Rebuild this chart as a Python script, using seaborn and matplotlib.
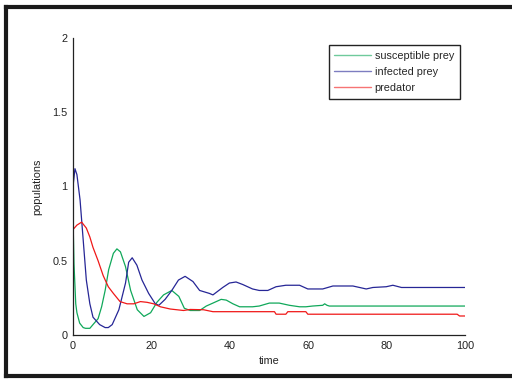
import matplotlib
matplotlib.use("Agg")
import matplotlib.pyplot as plt
from matplotlib.lines import Line2D
import numpy as np
import pandas as pd
import seaborn as sns

# Susceptible prey
t_s = [0, 0.25, 0.7, 1.0, 1.7, 2.6, 3.2, 4.3, 5.1, 6.4, 7.3, 8.2, 9.1, 10.3, 11.2, 12.1,
       13.4, 14.7, 16.4, 18.1, 19.8, 21.4, 23.1, 25.2, 27.0, 28.4, 29.9, 32.3, 34.0, 35.7,
       37.8, 39.1, 40.8, 42.5, 45.8, 47.5, 50.1, 52.6, 55.2, 57.8, 59.4, 61.1, 63.7, 64.2,
       64.8, 65.4, 100]
v_s = [0.80, 0.48, 0.21, 0.15, 0.08, 0.05, 0.045, 0.045, 0.07, 0.11, 0.19, 0.30, 0.44, 0.55,
       0.58, 0.56, 0.46, 0.30, 0.17, 0.125, 0.15, 0.22, 0.27, 0.30, 0.26, 0.18, 0.165, 0.165,
       0.195, 0.215, 0.24, 0.235, 0.21, 0.19, 0.19, 0.195, 0.215, 0.215, 0.20, 0.19, 0.19,
       0.195, 0.20, 0.21, 0.20, 0.195, 0.195]

# Infected prey
t_i = [0, 0.5, 1.0, 1.8, 2.6, 3.4, 4.3, 5.1, 6.8, 8.2, 9.0, 10.0, 11.7, 13.4, 14.2, 15.1,
       16.3, 17.6, 19.3, 21.0, 21.9, 23.5, 25.2, 26.9, 28.6, 30.6, 32.3, 34.8, 35.7, 38.2,
       39.9, 41.6, 43.3, 45.8, 47.5, 49.7, 51.8, 54.3, 57.8, 59.9, 63.7, 66.3, 71.4, 74.8,
       76.5, 79.9, 81.6, 83.8, 100]
v_i = [1.00, 1.12, 1.08, 0.91, 0.64, 0.37, 0.21, 0.12, 0.07, 0.05, 0.05, 0.07, 0.17, 0.35,
       0.49, 0.52, 0.47, 0.37, 0.28, 0.21, 0.20, 0.24, 0.30, 0.37, 0.395, 0.36, 0.30, 0.28,
       0.27, 0.32, 0.35, 0.357, 0.34, 0.31, 0.30, 0.30, 0.325, 0.335, 0.335, 0.31, 0.31,
       0.33, 0.33, 0.31, 0.32, 0.325, 0.335, 0.32, 0.32]

# Predator
t_p = [0, 1.0, 2.2, 3.4, 4.3, 5.1, 6.4, 7.7, 9.0, 10.3, 12.0, 13.8, 15.5, 17.2, 18.9, 20.6,
       22.3, 24.8, 28.2, 29.9, 33.3, 35.7, 51.4, 51.8, 54.3, 54.8, 59.4, 59.9, 98.0, 98.6, 100]
v_p = [0.71, 0.74, 0.76, 0.72, 0.66, 0.59, 0.50, 0.40, 0.325, 0.28, 0.225, 0.21, 0.21, 0.225,
       0.22, 0.21, 0.19, 0.175, 0.165, 0.172, 0.17, 0.157, 0.157, 0.14, 0.14, 0.157, 0.157,
       0.14, 0.14, 0.128, 0.128]

labels = ["susceptible prey", "infected prey", "predator"]
colors = ["#10a85a", "#262696", "#f01818"]

df = pd.concat([
    pd.DataFrame({"time": t_s, "value": v_s, "series": labels[0]}),
    pd.DataFrame({"time": t_i, "value": v_i, "series": labels[1]}),
    pd.DataFrame({"time": t_p, "value": v_p, "series": labels[2]}),
], ignore_index=True)

fs = 7.8
sns.set_style("white")
plt.rcParams["font.family"] = ["Liberation Sans", "DejaVu Sans"]
plt.rcParams["font.size"] = fs

fig = plt.figure(figsize=(5.12, 3.8), dpi=100)
ax = fig.add_axes([73 / 512, 45 / 380, 392 / 512, 297 / 380])

sns.lineplot(data=df, x="time", y="value", hue="series", palette=dict(zip(labels, colors)),
             sort=False, estimator=None, linewidth=0.9, ax=ax)

ax.set_xlim(0, 100)
ax.set_ylim(0, 2)
ax.set_xticks([0, 20, 40, 60, 80, 100])
ax.set_yticks([0, 0.5, 1, 1.5, 2])
ax.set_yticklabels(["0", "0.5", "1", "1.5", "2"])
ax.set_xlabel("time", fontsize=fs, color="#222222", labelpad=4)
ax.set_ylabel("populations", fontsize=fs, color="#222222", labelpad=7)
ax.tick_params(direction="in", length=3, width=0.8, colors="#222222", labelsize=fs, pad=4)
for s in ["top", "right"]:
    ax.spines[s].set_visible(False)
for s in ["left", "bottom"]:
    ax.spines[s].set_color("#222222")
    ax.spines[s].set_linewidth(0.9)

leg = ax.legend(loc="upper right", bbox_to_anchor=(0.987, 0.976), borderaxespad=0,
                fancybox=False, framealpha=1, edgecolor="#222222", fontsize=fs,
                handlelength=3.4, labelspacing=0.55, borderpad=0.55, handletextpad=0.3)
leg.get_frame().set_linewidth(1.0)
for h in leg.get_lines():
    h.set_linewidth(1.0)
    h.set_alpha(0.6)

# outer frame (left, top, bottom)
fw = 3.0
fig.add_artist(Line2D([6 / 512, 6 / 512], [4 / 380, 373 / 380], transform=fig.transFigure,
                      color="#1a1a1a", linewidth=fw, solid_capstyle="projecting"))
fig.add_artist(Line2D([6 / 512, 1.0], [373 / 380, 373 / 380], transform=fig.transFigure,
                      color="#1a1a1a", linewidth=fw, solid_capstyle="projecting"))
fig.add_artist(Line2D([6 / 512, 1.0], [4 / 380, 4 / 380], transform=fig.transFigure,
                      color="#1a1a1a", linewidth=fw, solid_capstyle="projecting"))

fig.savefig("out.png", dpi=100)
